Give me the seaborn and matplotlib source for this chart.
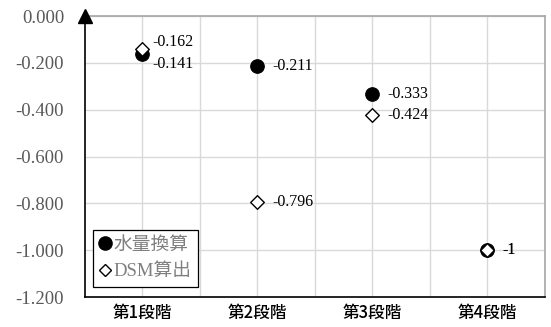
import matplotlib
matplotlib.use("Agg")
import matplotlib.pyplot as plt
import seaborn as sns
import pandas as pd
from matplotlib.ticker import FixedLocator
from matplotlib.lines import Line2D

categories = ["第1段階", "第2段階", "第3段階", "第4段階"]
water_values = [-0.162, -0.211, -0.333, -1.0]
dsm_values = [-0.141, -0.796, -0.424, -1.0]
series_names = ["水量換算", "DSM算出"]
yticks = [0.0, -0.2, -0.4, -0.6, -0.8, -1.0, -1.2]

sns.set_theme(style="white")
plt.rcParams["font.family"] = ["Liberation Serif", "Noto Sans CJK JP", "DejaVu Sans"]

xpos = list(range(1, len(categories) + 1))
df_w = pd.DataFrame({"x": xpos, "y": water_values})
df_d = pd.DataFrame({"x": xpos, "y": dsm_values})

fig = plt.figure(figsize=(5.51, 3.27), dpi=100)
ax = fig.add_axes([0.154, 0.0917, 0.835, 0.859])

sns.scatterplot(data=df_w, x="x", y="y", ax=ax, marker="o", s=95,
                color="black", edgecolor="black", linewidth=0.8, zorder=3)
sns.scatterplot(data=df_d, x="x", y="y", ax=ax, marker="D", s=48,
                color="white", edgecolor="black", linewidth=1.0, zorder=4)

# data labels (offsets in points)
w_off = [(7, 9), (11, 0), (11, 0), (11, 0)]
d_off = [(7, -11), (11, 0), (11, 0), (11, 0)]
for x, v, o in zip(xpos, water_values, w_off):
    ax.annotate(f"{v:g}", (x, v), xytext=o, textcoords="offset points",
                ha="left", va="center", fontsize=11.5, color="black",
                family="Liberation Serif", zorder=5)
for x, v, o in zip(xpos, dsm_values, d_off):
    ax.annotate(f"{v:g}", (x, v), xytext=o, textcoords="offset points",
                ha="left", va="center", fontsize=11.5, color="black",
                family="Liberation Serif", zorder=5)

ax.set_xlim(0.5, len(categories) + 0.5)
ax.set_ylim(-1.2, 0.0)
ax.set_xticks(xpos)
ax.set_xticklabels(categories, family=["Noto Sans CJK JP"], fontsize=12,
                   fontweight="medium", color="black")
ax.xaxis.set_minor_locator(FixedLocator([1.5, 2.5, 3.5]))
ax.set_yticks(yticks)
ax.set_yticklabels([f"{t:.3f}" for t in yticks], family="Liberation Serif",
                   fontsize=13.5, color="#595959")
ax.tick_params(axis="y", which="both", length=0, pad=15)
ax.tick_params(axis="x", which="both", length=0, pad=5)
ax.set_xlabel("")
ax.set_ylabel("")

ax.grid(True, which="both", color="#d9d9d9", linewidth=1.0)
ax.set_axisbelow(True)

for side in ["top", "right"]:
    ax.spines[side].set_color("#a6a6a6")
    ax.spines[side].set_linewidth(1.2)
for side in ["left", "bottom"]:
    ax.spines[side].set_color("black")
    ax.spines[side].set_linewidth(1.2)

# arrow head at top of y axis
ax.plot(0, 1, marker="^", markersize=10, color="black", transform=ax.transAxes,
        clip_on=False, zorder=6)

handles = [
    Line2D([], [], marker="o", linestyle="none", markersize=9.5,
           markerfacecolor="black", markeredgecolor="black"),
    Line2D([], [], marker="D", linestyle="none", markersize=6,
           markerfacecolor="white", markeredgecolor="black", markeredgewidth=1.0),
]
leg = ax.legend(handles, series_names, loc="lower left",
                bbox_to_anchor=(0.017, 0.036), borderaxespad=0,
                frameon=True, fancybox=False,
                edgecolor="black", framealpha=1, handlelength=0.6,
                handletextpad=0.15, borderpad=0.35, labelspacing=0.5,
                prop={"family": ["Liberation Serif", "Noto Sans CJK JP"],
                      "size": 13.5})
for t in leg.get_texts():
    t.set_color("#7f7f7f")
leg.get_frame().set_linewidth(0.9)

fig.savefig("out.png", dpi=100)
